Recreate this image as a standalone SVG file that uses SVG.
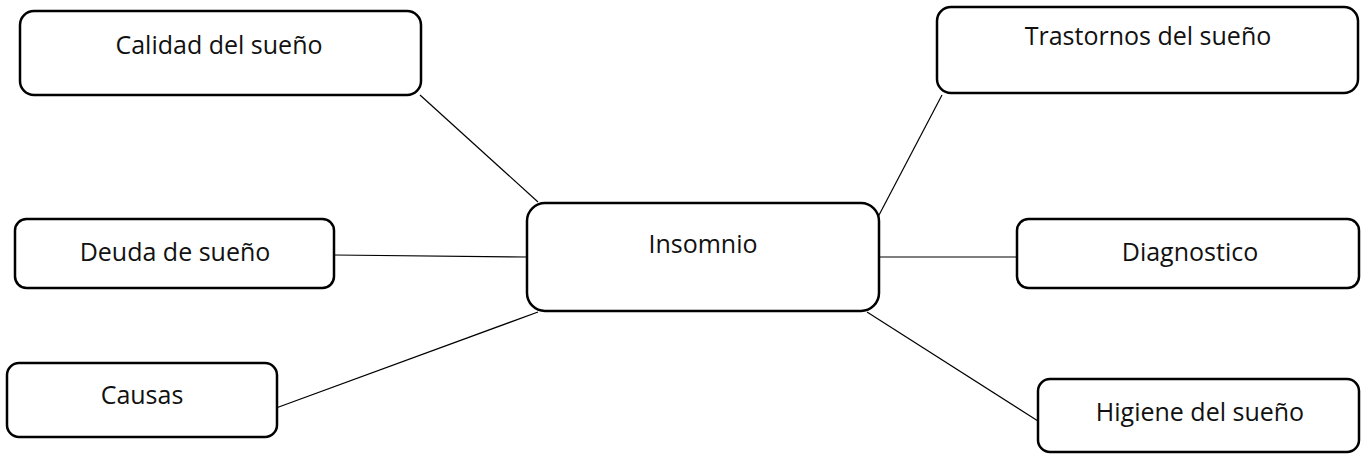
<svg xmlns="http://www.w3.org/2000/svg" width="1361" height="454" viewBox="0 0 1361 454">
<style>
.box{fill:#fff;stroke:#000;stroke-width:2.5}
.lbl{font-family:"Open Sans","Liberation Sans",sans-serif;font-size:25px;fill:#111;text-anchor:middle}
.conn line{stroke:#000;stroke-width:1.2}
</style>
<rect width="1361" height="454" fill="#fff"/>
<g id="connectors" class="conn">
<line x1="420" y1="95" x2="538" y2="202"/>
<line x1="942" y1="95" x2="878" y2="217"/>
<line x1="334" y1="255" x2="527" y2="257"/>
<line x1="879" y1="257" x2="1017" y2="257"/>
<line x1="276" y1="408" x2="538" y2="312"/>
<line x1="867" y1="312" x2="1038" y2="421"/>
</g>
<g id="calidad"><rect class="box" x="20" y="11" width="401" height="84" rx="14"/><text class="lbl" x="219" y="54">Calidad del sueño</text></g>
<g id="trastornos"><rect class="box" x="937" y="7" width="421" height="86" rx="14"/><text class="lbl" x="1148" y="45">Trastornos del sueño</text></g>
<g id="insomnio"><rect class="box" x="527" y="203" width="352" height="108" rx="18"/><text class="lbl" x="703" y="253">Insomnio</text></g>
<g id="deuda"><rect class="box" x="15" y="219" width="319" height="69" rx="11.5"/><text class="lbl" x="175" y="261">Deuda de sueño</text></g>
<g id="causas"><rect class="box" x="7" y="363" width="270" height="74" rx="12"/><text class="lbl" x="142" y="404">Causas</text></g>
<g id="diagnostico"><rect class="box" x="1017" y="219" width="342" height="69" rx="11.5"/><text class="lbl" x="1190" y="261">Diagnostico</text></g>
<g id="higiene"><rect class="box" x="1038" y="379" width="321" height="73" rx="12"/><text class="lbl" x="1200" y="421">Higiene del sueño</text></g>
</svg>
